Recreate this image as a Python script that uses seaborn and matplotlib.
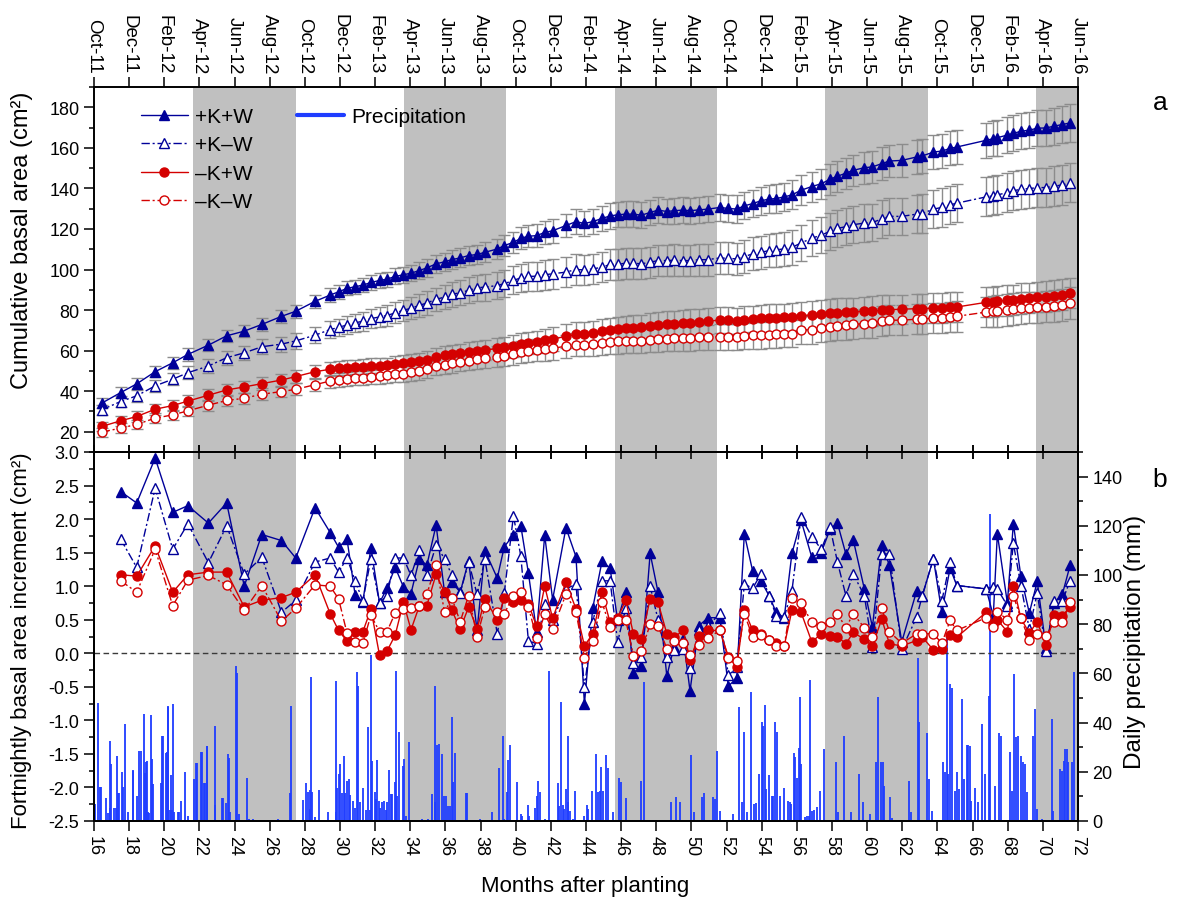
import numpy as np
import pandas as pd
import matplotlib
matplotlib.use("Agg")
import matplotlib.pyplot as plt
from matplotlib.lines import Line2D
from matplotlib.ticker import MultipleLocator, FormatStrFormatter
import seaborn as sns

# ---------------------------------------------------------------- data
# sampling dates (months after planting)
months = [16.44, 17.52, 18.43, 19.48, 20.48, 21.34, 22.51, 23.55, 24.55, 25.55,
          26.67, 27.48, 28.58, 29.44, 29.92, 30.40, 30.86, 31.30, 31.76, 32.25,
          32.67, 33.14, 33.61, 34.04, 34.52, 34.94, 35.47, 35.95, 36.37, 36.84,
          37.32, 37.80,
          38.25, 38.95, 39.35, 39.87, 40.29, 40.72, 41.19, 41.65, 42.10, 42.86,
          43.43, 43.91, 44.38, 44.91, 45.37, 45.80, 46.26, 46.70, 47.15, 47.65,
          48.10, 48.60, 49.01, 49.54, 49.92, 50.42, 50.95, 51.62, 52.10, 52.58,
          53.01, 53.49, 53.95, 54.42, 54.82, 55.28, 55.72, 56.24, 56.85, 57.39,
          57.89, 58.31, 58.79, 59.21, 59.84, 60.30, 60.83, 61.27, 61.97, 62.82,
          63.14, 63.77, 64.25, 64.72, 65.10, 66.77, 67.18, 67.41, 67.98, 68.32,
          68.75, 69.23, 69.68, 70.18, 70.64, 71.11, 71.55]

# cumulative basal area (cm2)
ba_kw = [34.1, 39.3, 43.6, 49.6, 54.0, 58.1, 62.7, 67.3, 69.6, 72.9,
         76.9, 79.4, 84.3, 87.4, 89.0, 90.7, 91.5, 92.3, 93.6, 94.6,
         95.2, 96.6, 97.4, 98.2, 99.5, 100.8, 102.8, 103.8, 104.9, 105.7,
         106.9, 107.4,
         108.5, 110.1, 111.8, 113.4, 115.4, 116.4, 116.7, 118.3, 119.1, 121.7,
         123.6, 122.7, 123.6, 125.2, 126.4, 127.0, 127.3, 127.3, 126.8, 128.1,
         129.3, 128.6, 129.0, 129.3, 129.0, 129.4, 129.8, 130.6, 130.1, 129.8,
         131.4, 132.5, 133.9, 134.7, 135.0, 135.8, 136.8, 139.1, 140.9, 142.3,
         144.5, 146.0, 147.5, 148.9, 150.2, 150.6, 152.2, 153.5, 153.8, 155.5,
         156.0, 157.9, 158.4, 159.7, 160.4, 163.7, 164.5, 165.0, 166.3, 167.1,
         168.2, 168.7, 169.7, 169.8, 170.7, 171.5, 172.3]
ba_knw = [30.8, 34.9, 37.7, 42.6, 45.9, 49.1, 52.4, 56.5, 58.9, 61.9,
          63.2, 64.8, 67.6, 70.4, 71.4, 72.7, 73.7, 74.5, 75.8, 76.6,
          77.3, 78.6, 79.9, 80.9, 82.3, 83.5, 85.3, 86.4, 87.7, 88.6,
          89.7, 91.0,
          91.3, 92.1, 93.0, 94.6, 95.9, 96.6, 96.7, 97.4, 97.9, 98.7,
          100.0, 99.8, 100.3, 101.1, 102.5, 102.6, 103.1, 103.1, 102.8, 103.6,
          104.4, 104.4, 104.6, 104.4, 104.4, 104.8, 104.9, 105.7, 105.5, 105.2,
          106.4, 107.7, 108.5, 109.3, 109.8, 110.1, 110.9, 113.1, 115.4, 117.0,
          118.8, 120.3, 121.1, 122.1, 122.9, 123.2, 124.9, 126.2, 126.2, 127.3,
          127.6, 129.8, 130.6, 131.9, 132.7, 135.8, 136.3, 136.8, 137.9, 138.8,
          139.6, 139.9, 140.4, 140.4, 141.1, 141.7, 142.9]
ba_nkw = [22.6, 25.4, 27.5, 31.1, 32.9, 35.1, 38.0, 40.6, 42.1, 43.7,
          45.5, 47.2, 49.6, 50.8, 51.3, 51.6, 51.9, 52.1, 52.6, 52.6,
          52.7, 53.4, 53.7, 54.2, 54.7, 55.3, 56.7, 57.6, 58.1, 58.6,
          59.3, 59.6,
          60.2, 61.1, 61.6, 62.2, 63.2, 63.8, 64.3, 65.2, 65.6, 67.1,
          68.0, 68.0, 68.6, 69.7, 70.1, 70.6, 71.0, 71.2, 71.4, 72.2,
          72.7, 73.3, 73.3, 73.8, 73.8, 74.1, 74.6, 75.0, 75.0, 74.6,
          75.3, 75.6, 76.0, 76.1, 76.1, 76.4, 76.6, 77.3, 77.6, 78.1,
          78.6, 78.7, 78.9, 79.0, 79.5, 79.5, 80.0, 80.2, 80.4, 80.7,
          80.7, 81.0, 81.0, 81.5, 81.5, 83.8, 84.1, 84.3, 84.8, 85.1,
          85.6, 85.9, 86.4, 86.6, 87.1, 87.6, 88.4]
ba_nknw = [19.8, 21.8, 23.6, 26.7, 28.3, 30.3, 33.1, 35.4, 36.5, 38.5,
           39.8, 40.9, 43.2, 45.0, 45.5, 46.0, 46.3, 46.5, 47.0, 47.3,
           47.8, 48.5, 48.6, 49.3, 49.9, 50.8, 52.4, 53.0, 53.7, 54.4,
           55.0, 55.7,
           56.2, 57.0, 57.5, 58.3, 59.1, 59.8, 60.2, 60.7, 61.1, 62.2,
           63.0, 63.0, 63.2, 63.8, 64.2, 64.5, 64.8, 64.8, 64.8, 65.2,
           65.6, 65.8, 66.0, 66.1, 66.1, 66.5, 66.5, 66.8, 66.8, 66.8,
           67.1, 67.5, 67.6, 67.8, 68.0, 68.3, 68.4, 70.1, 70.4, 71.2,
           71.5, 72.2, 72.5, 72.9, 73.3, 73.7, 74.6, 75.0, 75.0, 75.5,
           75.6, 76.0, 76.1, 76.6, 76.9, 79.0, 79.4, 79.5, 80.0, 80.5,
           80.9, 81.2, 81.3, 81.7, 82.0, 82.3, 83.5]

# standard errors of cumulative basal area (cm2)
se_kw = [2.5, 2.6, 2.7, 2.8, 2.9, 3.0, 3.0, 3.1, 3.1, 3.2, 3.2, 3.3,
         3.3, 3.4, 3.4, 3.5, 3.5, 3.6, 3.6, 3.7, 3.8, 3.9, 4.0, 4.1, 4.2, 4.3,
         4.4, 4.5, 4.6, 4.7, 4.8, 4.9,
         5.0, 5.1, 5.2, 5.3, 5.4, 5.5, 5.6, 5.7, 5.8, 5.9, 6.0, 6.0, 6.1, 6.1,
         6.2, 6.2, 6.3, 6.3, 6.3, 6.4, 6.4, 6.4, 6.5, 6.5, 6.5, 6.5, 6.6, 6.6,
         6.6, 6.7, 6.7, 6.8, 6.9, 7.0, 7.0, 7.1, 7.2, 7.3, 7.4, 7.5,
         7.6, 7.7, 7.7, 7.8, 7.9, 8.0, 8.0, 8.1, 8.1, 8.2, 8.2, 8.3, 8.4, 8.4,
         8.5, 8.7, 8.7, 8.8, 8.8, 8.9, 8.9, 9.0, 9.0, 9.1, 9.1, 9.2, 9.2]
se_knw = [2.5, 2.7, 2.8, 3.0, 3.1, 3.2, 3.3, 3.4, 3.5, 3.6, 3.7, 3.8,
          4.0, 4.2, 4.3, 4.4, 4.5, 4.6, 4.8, 4.9, 5.0, 5.2, 5.3, 5.4, 5.6, 5.7,
          5.8, 6.0, 6.1, 6.2, 6.4, 6.5,
          6.6, 6.7, 6.8, 6.9, 7.0, 7.1, 7.2, 7.3, 7.3, 7.4, 7.4, 7.5, 7.5, 7.5,
          7.6, 7.6, 7.6, 7.7, 7.7, 7.7, 7.7, 7.8, 7.8, 7.8, 7.8, 7.8, 7.9, 7.9,
          7.9, 8.0, 8.0, 8.1, 8.2, 8.3, 8.4, 8.5, 8.6, 8.7, 8.8, 8.9,
          9.0, 9.0, 9.1, 9.1, 9.2, 9.2, 9.3, 9.3, 9.3, 9.4, 9.4, 9.4, 9.5, 9.5,
          9.5, 9.6, 9.6, 9.6, 9.6, 9.7, 9.7, 9.7, 9.7, 9.8, 9.8, 9.8, 9.8]
se_nkw = [2.4, 2.5, 2.6, 2.7, 2.8, 2.9, 3.0, 3.0, 3.1, 3.2, 3.2, 3.3,
          3.4, 3.5, 3.5, 3.6, 3.6, 3.7, 3.7, 3.8, 3.8, 3.9, 4.0, 4.1, 4.2, 4.3,
          4.4, 4.5, 4.6, 4.7, 4.8, 4.9,
          5.0, 5.1, 5.2, 5.3, 5.4, 5.5, 5.6, 5.7, 5.8, 5.8, 5.9, 5.9, 6.0, 6.0,
          6.1, 6.1, 6.2, 6.2, 6.3, 6.3, 6.3, 6.4, 6.4, 6.4, 6.5, 6.5, 6.5, 6.5,
          6.6, 6.6, 6.6, 6.6, 6.7, 6.7, 6.7, 6.8, 6.8, 6.9, 6.9, 7.0,
          7.0, 7.0, 7.1, 7.1, 7.1, 7.2, 7.2, 7.2, 7.2, 7.3, 7.3, 7.3, 7.3, 7.4,
          7.4, 7.4, 7.4, 7.4, 7.5, 7.5, 7.5, 7.5, 7.5, 7.5, 7.5, 7.5, 7.5]
se_nknw = [2.2, 2.3, 2.4, 2.5, 2.6, 2.6, 2.7, 2.8, 2.8, 2.9, 2.9, 3.0,
           3.1, 3.2, 3.3, 3.4, 3.5, 3.5, 3.6, 3.7, 3.8, 3.9, 4.0, 4.1, 4.2, 4.3,
           4.4, 4.5, 4.6, 4.7, 4.8, 4.9,
           5.0, 5.1, 5.2, 5.3, 5.4, 5.5, 5.5, 5.6, 5.6, 5.7, 5.7, 5.8, 5.8, 5.9,
           5.9, 6.0, 6.0, 6.0, 6.1, 6.1, 6.1, 6.2, 6.2, 6.2, 6.3, 6.3, 6.3, 6.4,
           6.4, 6.4, 6.5, 6.5, 6.6, 6.6, 6.7, 6.7, 6.8, 6.8, 6.9, 7.0,
           7.0, 7.1, 7.1, 7.2, 7.2, 7.3, 7.3, 7.4, 7.4, 7.4, 7.5, 7.5, 7.5, 7.6,
           7.6, 7.6, 7.7, 7.7, 7.7, 7.7, 7.8, 7.8, 7.8, 7.8, 7.9, 7.9, 7.9]

# fortnightly basal area increment (cm2), from the second sampling on
inc_kw = [2.41, 2.24, 2.91, 2.10, 2.20, 1.94, 2.24, 1.00, 1.77, 1.68,
          1.42, 2.17, 1.80, 1.58, 1.70, 0.87, 0.77, 1.57, 0.75, 0.97,
          1.28, 0.99, 0.89, 1.41, 1.31, 1.91, 0.91, 1.06, 0.91, 1.38, 0.34,
          1.53, 1.12, 1.59, 1.76, 1.90, 1.20, 0.32, 1.76, 0.80, 1.87,
          1.44, -0.76, 0.67, 1.37, 1.27, 0.49, 0.91, -0.29, -0.19, 1.49,
          0.91, -0.34, 0.10, 0.21, -0.56, 0.41, 0.53, 0.53, -0.49, -0.37,
          1.78, 1.22, 1.08, 0.86, 0.61, 0.53, 1.49, 1.98, 1.43, 1.50,
          1.85, 1.94, 1.48, 1.69, 0.96, 0.39, 1.62, 1.31, 0.17, 0.93,
          0.86, 1.41, 0.61, 1.27, 1.01, 0.96, 0.56, 1.78, 0.75, 1.93,
          1.15, 0.60, 1.07, 0.08, 0.75, 0.88, 1.31]
inc_knw = [1.70, 1.28, 2.46, 1.55, 1.93, 1.35, 1.90, 1.18, 1.43, 0.61,
           0.79, 1.36, 1.42, 1.21, 1.42, 1.08, 0.78, 1.41, 0.75, 0.86,
           1.42, 1.42, 1.16, 1.54, 1.16, 1.61, 1.41, 1.16, 0.90, 1.36, 0.88,
           1.40, 0.29, 0.90, 2.05, 1.45, 0.19, 0.14, 0.73, 0.50, 0.96,
           1.03, -0.51, 0.46, 1.08, 1.08, 0.17, 0.67, -0.14, -0.05, 1.00,
           0.50, -0.06, 0.05, 0.06, -0.22, 0.34, 0.40, 0.60, -0.33, -0.21,
           1.03, 0.97, 1.18, 0.86, 0.56, 0.54, 0.93, 2.03, 1.74, 1.55,
           1.88, 1.36, 0.86, 1.18, 0.86, 0.09, 1.48, 1.48, 0.06, 0.54,
           0.86, 1.41, 0.78, 1.36, 1.01, 0.96, 0.99, 0.96, 0.71, 1.64,
           1.01, 0.36, 0.90, 0.04, 0.78, 0.78, 1.08]
inc_nkw = [1.17, 1.15, 1.60, 0.91, 1.17, 1.21, 1.21, 0.69, 0.79, 0.83,
           0.91, 1.17, 0.59, 0.34, 0.18, 0.32, 0.32, 0.66, -0.03, 0.03,
           0.27, 0.76, 0.35, 0.71, 0.71, 1.18, 0.91, 0.64, 0.36, 0.69, 0.36,
           0.81, 0.50, 0.82, 0.76, 0.80, 0.74, 0.40, 1.00, 0.52, 1.06,
           0.66, 0.11, 0.29, 0.91, 0.46, 0.53, 0.79, 0.29, 0.22, 0.81,
           0.76, 0.29, 0.24, 0.34, -0.10, 0.26, 0.34, 0.34, -0.05, -0.20,
           0.64, 0.34, 0.29, 0.20, 0.15, 0.11, 0.64, 0.61, 0.17, 0.29,
           0.26, 0.25, 0.14, 0.31, 0.21, 0.11, 0.51, 0.14, 0.11, 0.19,
           0.24, 0.05, 0.07, 0.27, 0.24, 0.61, 0.44, 0.50, 0.32, 1.01,
           0.52, 0.30, 0.47, 0.12, 0.57, 0.56, 0.69]
inc_nknw = [1.08, 0.91, 1.55, 0.71, 1.09, 1.16, 1.02, 0.64, 1.01, 0.48,
            0.67, 1.02, 1.00, 0.81, 0.30, 0.17, 0.15, 0.57, 0.32, 0.32,
            0.60, 0.66, 0.67, 0.71, 0.88, 1.32, 0.61, 0.82, 0.47, 0.86, 0.25,
            0.69, 0.61, 0.59, 0.86, 0.91, 0.69, 0.23, 0.58, 0.36, 0.88,
            0.62, -0.07, 0.19, 0.76, 0.39, 0.50, 0.50, -0.04, 0.04, 0.43,
            0.41, 0.07, 0.19, 0.15, -0.02, 0.13, 0.23, 0.34, -0.07, -0.12,
            0.59, 0.24, 0.27, 0.20, 0.11, 0.11, 0.82, 0.75, 0.46, 0.41,
            0.46, 0.59, 0.38, 0.59, 0.38, 0.24, 0.67, 0.32, 0.15, 0.29,
            0.29, 0.29, 0.15, 0.49, 0.34, 0.53, 0.39, 0.62, 0.50, 0.86,
            0.52, 0.20, 0.29, 0.26, 0.46, 0.46, 0.76]

# daily rainfall: day counted from 1 Oct 2011, amount in mm
rain_day = [0, 1, 7, 10, 12, 20, 25, 27, 28, 30, 35, 38, 39, 42, 44, 49, 51, 53,
            59, 67, 68, 75, 78, 81, 86, 88, 90, 92, 93, 95, 98, 100, 102, 116,
            118, 120, 124, 126, 128, 129, 131, 133, 135, 137, 139, 145, 147,
            151, 157, 163, 174, 177, 178, 185, 187, 190, 192, 195, 196, 209,
            210, 222, 224, 228, 232, 234, 236, 246, 248, 252, 265, 269, 275,
            319, 339, 341, 362, 367, 370, 374, 375, 376, 378, 383, 390, 406,
            419, 420, 421, 425, 426, 429, 433, 434, 438, 441, 444, 448, 452,
            456, 458, 460, 466, 472, 475, 478, 480, 482, 486, 488, 491, 493,
            495, 499, 503, 506, 508, 511, 514, 517, 521, 523, 525, 528, 535,
            537, 540, 546, 568, 579, 585, 590, 591, 594, 597, 603, 606, 610,
            614, 617, 620, 622, 625, 644, 647, 669, 689, 702, 708, 711, 715,
            718, 721, 733, 740, 741, 751, 754, 764, 767, 770, 772, 782, 789,
            803, 806, 809, 812, 815, 818, 821, 822, 825, 830, 834,
            849, 854, 856, 863, 869, 873, 876, 879, 881, 887, 890, 899, 910,
            913, 922, 948, 953, 1000, 1009, 1015, 1035, 1040, 1054, 1056, 1073,
            1076, 1079, 1084, 1107, 1118, 1122, 1126, 1132, 1138, 1143, 1147,
            1152, 1157, 1159, 1163, 1165, 1170, 1174, 1177, 1180, 1183, 1189,
            1196, 1202, 1205, 1207, 1212, 1214, 1218, 1221, 1223, 1225, 1231,
            1235, 1238, 1241, 1243, 1247, 1253, 1257, 1264, 1285, 1289, 1300,
            1311, 1326, 1332, 1344, 1355, 1359, 1364, 1367, 1369, 1379, 1383,
            1412, 1416, 1428, 1430, 1443, 1447, 1451, 1471, 1474, 1477, 1480,
            1483, 1487, 1491, 1495, 1499, 1503, 1507, 1512, 1514, 1517, 1520,
            1526, 1531, 1538, 1543, 1550, 1553, 1561, 1567, 1572, 1587, 1591,
            1594, 1598, 1601, 1606, 1610, 1613, 1616, 1626, 1630, 1633, 1643,
            1659, 1662, 1674, 1677, 1680, 1682, 1685, 1688, 1694, 1698]
rain_mm = [40.6, 6.9, 48.0, 14.0, 14.0, 9.2, 3.3, 5.1, 32.7, 23.2, 5.1, 5.1,
           26.6, 11.4, 11.4, 20.1, 13.7, 39.4, 3.5, 20.7, 20.5, 10.3, 28.3,
           28.3, 43.5, 19.5, 24.1, 24.3, 3.5, 3.3, 43.1, 25.2, 15.0, 15.4,
           34.7, 34.7, 27.5, 27.9, 46.6, 46.5, 4.6, 18.8, 4.6, 47.4, 3.5, 3.5,
           3.5, 8.3, 19.8, 2.2, 17.1, 23.6, 23.6, 27.9, 27.9, 15.3, 15.3,
           30.4, 30.4, 38.5, 6.5, 9.2, 9.2, 7.3, 27.2, 25.5, 3.5, 62.9, 60.2,
           2.8, 17.3, 1.0, 1.0, 1.0, 11.4, 46.6, 8.7, 15.4, 11.7, 4.9, 12.7,
           58.4, 11.7, 1.5, 12.7, 3.5, 3.5, 56.8, 13.3, 19.1, 23.2, 11.4,
           26.3, 11.4, 16.3, 17.1, 10.6, 8.3, 5.1, 60.4, 55.0, 7.9, 13.3, 4.6,
           38.1, 4.6, 67.5, 24.5, 11.9, 8.9, 24.8, 8.3, 5.4, 7.6, 8.3, 4.6,
           7.6, 20.7, 11.0, 11.0, 15.7, 60.8, 10.3, 36.3, 22.2, 25.2, 2.2,
           32.0, 1.0, 1.0, 11.0, 7.6, 55.0, 30.9, 31.3, 27.2, 10.3, 10.3, 6.2,
           6.2, 42.1, 16.0, 27.5, 11.4, 11.4, 1.0, 3.8, 21.4, 34.4, 1.0, 11.7,
           24.9, 30.9, 16.0, 2.8, 2.2, 6.5, 2.2, 5.1, 10.3, 16.4, 11.9, 1.0,
           60.8, 15.4, 6.2, 48.2, 6.5, 4.9, 13.0, 7.9, 34.4, 4.2, 1.0, 12.3,
           2.2, 6.5, 4.9, 12.1, 27.2, 11.9, 12.3, 21.8, 12.3, 26.8, 21.4, 3.5,
           17.3, 16.0, 9.2, 16.4, 56.6, 7.6, 9.6, 7.9, 26.8, 3.5, 9.6, 11.2,
           9.6, 8.9, 28.6, 4.2, 2.8, 46.2, 7.9, 36.3, 3.5, 52.3, 6.9, 7.2,
           19.1, 40.4, 38.8, 47.2, 13.0, 18.7, 10.3, 10.3, 40.4, 36.3, 10.0,
           13.3, 8.3, 7.6, 6.9, 27.6, 25.9, 17.3, 29.5, 50.3, 23.2, 1.5, 2.2,
           2.2, 57.5, 4.2, 4.6, 5.6, 12.1, 29.3, 23.8, 3.8, 34.4, 3.5, 19.1,
           7.6, 2.8, 24.1, 50.3, 23.8, 23.8, 14.1, 9.6, 1.2, 16.4, 3.8, 66.1,
           40.4, 35.8, 17.1, 4.2, 23.8, 19.8, 76.0, 19.1, 55.7, 53.9, 12.3,
           19.8, 13.0, 49.6, 17.1, 30.9, 30.9, 30.6, 8.3, 13.3, 7.9, 39.4,
           19.1, 50.9, 124.8, 14.4, 35.8, 34.7, 27.9, 12.3, 59.8, 34.0, 34.7,
           26.6, 23.8, 23.2, 11.7, 34.7, 45.5, 4.9, 1.0, 41.5, 4.2, 21.1,
           20.5, 24.5, 29.3, 29.3, 24.1, 24.1, 60.7]

# dry seasons (months after planting)
dry_start = [21.65, 33.65, 45.65, 57.60, 69.60]
dry_end = [27.50, 39.45, 51.45, 63.45, 72.00]

# calendar labels for the upper axis
date_labels = ["Oct-11", "Dec-11", "Feb-12", "Apr-12", "Jun-12", "Aug-12",
               "Oct-12", "Dec-12", "Feb-13", "Apr-13", "Jun-13", "Aug-13",
               "Oct-13", "Dec-13", "Feb-14", "Apr-14", "Jun-14", "Aug-14",
               "Oct-14", "Dec-14", "Feb-15", "Apr-15", "Jun-15", "Aug-15",
               "Oct-15", "Dec-15", "Feb-16", "Apr-16", "Jun-16"]

treatments = ["+K+W", "+K\u2013W", "\u2013K+W", "\u2013K\u2013W"]

# ---------------------------------------------------------------- style
sns.set_theme(style="ticks")
plt.rcParams["font.family"] = ["Liberation Sans", "DejaVu Sans"]
plt.rcParams["axes.unicode_minus"] = False
plt.rcParams["axes.linewidth"] = 1.4
plt.rcParams["axes.edgecolor"] = "black"
plt.rcParams["text.color"] = "black"
plt.rcParams["axes.labelcolor"] = "black"
plt.rcParams["xtick.color"] = "black"
plt.rcParams["ytick.color"] = "black"

NAVY = "#000099"
RED = "#d40000"
RAIN = "#1f3dff"
SHADE = "#c0c0c0"
ERR = "#8c8c8c"
DASHDOT = (0, (6, 2, 1.5, 2))
TICK_FS = 13

series_style = {
    "+K+W": dict(color=NAVY, marker="^", face=NAVY, ls="-"),
    "+K\u2013W": dict(color=NAVY, marker="^", face="white", ls=DASHDOT),
    "\u2013K+W": dict(color=RED, marker="o", face=RED, ls="-"),
    "\u2013K\u2013W": dict(color=RED, marker="o", face="white", ls=DASHDOT),
}

cum = pd.DataFrame({"month": months, "+K+W": ba_kw, "+K\u2013W": ba_knw,
                    "\u2013K+W": ba_nkw, "\u2013K\u2013W": ba_nknw})
err = {"+K+W": se_kw, "+K\u2013W": se_knw,
       "\u2013K+W": se_nkw, "\u2013K\u2013W": se_nknw}
inc = pd.DataFrame({"month": months[1:], "+K+W": inc_kw, "+K\u2013W": inc_knw,
                    "\u2013K+W": inc_nkw, "\u2013K\u2013W": inc_nknw})
rain = pd.DataFrame({"month": 16 + np.array(rain_day) / 30.44, "mm": rain_mm})

# ---------------------------------------------------------------- layout
fig = plt.figure(figsize=(11.82, 9.04), dpi=100)
L, W = 94 / 1182, 984 / 1182
ax_a = fig.add_axes([L, 1 - 453 / 904, W, 365 / 904])
ax_b = fig.add_axes([L, 1 - 822 / 904, W, 369 / 904])
ax_p = ax_b.twinx()
ax_b.set_zorder(ax_p.get_zorder() + 1)
ax_b.patch.set_visible(False)

for s, e in zip(dry_start, dry_end):
    ax_a.axvspan(s, e, color=SHADE, lw=0, zorder=0)
    ax_p.axvspan(s, e, color=SHADE, lw=0, zorder=0)

# ---------------------------------------------------------------- panel a
for name in treatments:
    st = series_style[name]
    ms = 7.5 if st["marker"] == "^" else 6.5
    ax_a.errorbar(cum["month"], cum[name], yerr=err[name], fmt="none",
                  ecolor=ERR, elinewidth=1.0, capsize=4, capthick=1.0, zorder=2)
    sns.lineplot(x=cum["month"], y=cum[name], ax=ax_a, color=st["color"],
                 marker=st["marker"], markersize=ms,
                 markerfacecolor=st["face"], markeredgecolor=st["color"],
                 markeredgewidth=1.0, linewidth=1.0, linestyle=st["ls"],
                 estimator=None, sort=False, legend=False, zorder=3)

ax_a.set_xlim(16, 72)
ax_a.set_ylim(10, 190)
ax_a.set_yticks(np.arange(20, 181, 20))
ax_a.yaxis.set_minor_locator(MultipleLocator(10))
ax_a.set_xticks(np.arange(16, 73, 2))
ax_a.set_xticklabels(date_labels)
ax_a.tick_params(axis="x", which="major", top=True, labeltop=True, bottom=False,
                 labelbottom=False, direction="out", length=7, width=1.1,
                 labelsize=13.5, pad=3)
plt.setp(ax_a.get_xticklabels(), rotation=270, ha="center", va="bottom")
ax_a.tick_params(axis="y", which="major", direction="out", length=7, width=1.1,
                 labelsize=TICK_FS, left=True, right=False)
ax_a.tick_params(axis="y", which="minor", direction="out", length=3.5, width=1.1,
                 left=True, right=False)
ax_a.set_xlabel("")
ax_a.set_ylabel("")
bot_a = ax_a.secondary_xaxis("bottom")
bot_a.set_xticks(np.arange(16, 73, 2))
bot_a.tick_params(axis="x", direction="inout", length=10, width=1.1,
                  labelbottom=False)

handles = []
for name in treatments:
    st = series_style[name]
    handles.append(Line2D([], [], color=st["color"], lw=1.0, ls=st["ls"],
                          marker=st["marker"],
                          markersize=7.5 if st["marker"] == "^" else 6.5,
                          markerfacecolor=st["face"],
                          markeredgecolor=st["color"], markeredgewidth=1.0))
leg1 = ax_a.legend(handles, treatments, loc="upper left",
                   bbox_to_anchor=(0.0478, 0.945), frameon=False, fontsize=15,
                   handlelength=2.25, handletextpad=0.35, labelspacing=0.45,
                   borderpad=0, borderaxespad=0, numpoints=1)
ax_a.add_artist(leg1)
ax_a.legend([Line2D([], [], color=RAIN, lw=3)], ["Precipitation"],
            loc="upper left", bbox_to_anchor=(0.206, 0.945), frameon=False,
            fontsize=15, handlelength=2.25, handletextpad=0.35,
            borderpad=0, borderaxespad=0)

# ---------------------------------------------------------------- panel b
ax_p.vlines(rain["month"], 0, rain["mm"], color=RAIN, lw=1.3, zorder=2)
ax_p.set_ylim(0, 150)
ax_p.set_yticks(np.arange(0, 141, 20))
ax_p.yaxis.set_minor_locator(MultipleLocator(10))
ax_p.tick_params(axis="y", which="major", direction="out", length=7, width=1.1,
                 labelsize=TICK_FS)
ax_p.tick_params(axis="y", which="minor", direction="out", length=3.5, width=1.1)
ax_p.set_ylabel("")
ax_p.grid(False)

ax_b.axhline(0, color="#3a3a3a", lw=1.0, ls=(0, (4, 2.5)), zorder=1)
for name in treatments:
    st = series_style[name]
    ms = 7.5 if st["marker"] == "^" else 6.5
    sns.lineplot(x=inc["month"], y=inc[name], ax=ax_b, color=st["color"],
                 marker=st["marker"], markersize=ms,
                 markerfacecolor=st["face"], markeredgecolor=st["color"],
                 markeredgewidth=1.0, linewidth=1.0, linestyle=st["ls"],
                 estimator=None, sort=False, legend=False, zorder=3)

ax_b.set_xlim(16, 72)
ax_b.set_ylim(-2.5, 3.0)
ax_b.set_yticks(np.arange(-2.5, 3.01, 0.5))
ax_b.yaxis.set_major_formatter(FormatStrFormatter("%.1f"))
ax_b.yaxis.set_minor_locator(MultipleLocator(0.25))
ax_b.set_xticks(np.arange(16, 73, 2))
ax_b.tick_params(axis="x", which="major", direction="out", length=7, width=1.1,
                 labelsize=TICK_FS, bottom=True, top=False, pad=3)
plt.setp(ax_b.get_xticklabels(), rotation=270, ha="center", va="top")
ax_b.tick_params(axis="y", which="major", direction="out", length=7, width=1.1,
                 labelsize=TICK_FS, left=True, right=False)
ax_b.tick_params(axis="y", which="minor", direction="out", length=3.5,
                 width=1.1, left=True, right=False)
ax_b.set_xlabel("")
ax_b.set_ylabel("")
top_b = ax_b.secondary_xaxis("top")
top_b.set_xticks(np.arange(16, 73, 2))
top_b.tick_params(axis="x", direction="inout", length=10, width=1.1,
                  labeltop=False)

# ---------------------------------------------------------------- labels
fig.text(22 / 1182, 1 - 240 / 904, "Cumulative basal area (cm\u00b2)",
         rotation=90, ha="center", va="center", fontsize=17)
fig.text(22 / 1182, 1 - 641 / 904, "Fortnightly basal area increment (cm\u00b2)",
         rotation=90, ha="center", va="center", fontsize=16)
fig.text(1135 / 1182, 1 - 642 / 904, "Daily precipitation (mm)",
         rotation=90, ha="center", va="center", fontsize=17.5)
fig.text(585 / 1182, 1 - 887 / 904, "Months after planting",
         ha="center", va="center", fontsize=16)
fig.text(1160 / 1182, 1 - 103 / 904, "a", ha="center", va="center", fontsize=19)
fig.text(1160 / 1182, 1 - 480 / 904, "b", ha="center", va="center", fontsize=19)

fig.savefig("out.png", dpi=100)
